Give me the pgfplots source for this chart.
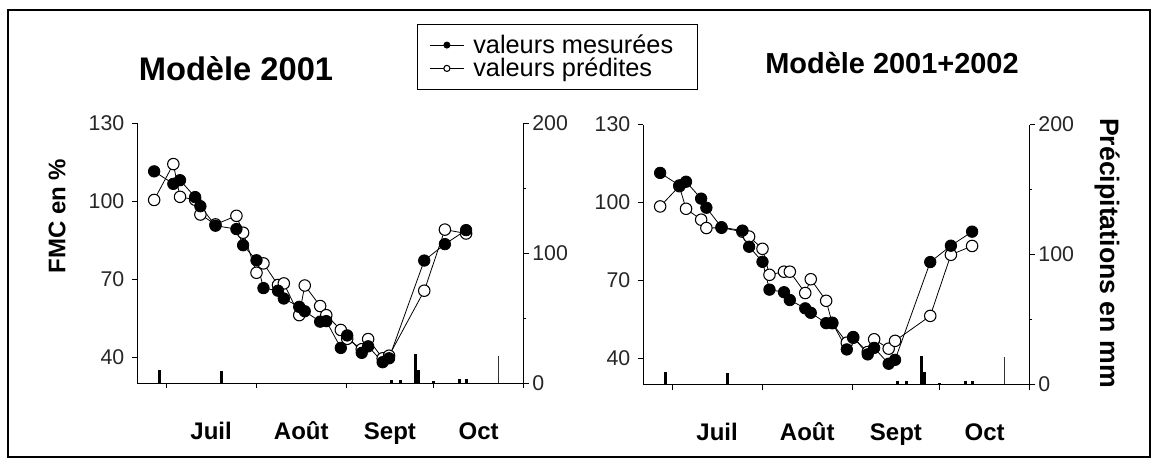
\documentclass[border=0pt]{standalone}
\usepackage{fontspec}
\setmainfont{Liberation Sans}
\usepackage{pgfplots}
\usepackage{pgfplotstable}
\pgfplotsset{compat=1.18}

% FMC: day counted from 1 July; M = measured, P1 = model 2001, P2 = model 2001+2002
\pgfplotstableread{
day   M     P1    P2
-4.1  111.4 100.4 98.5
2.5   106.6 114.2 106.3
4.8   108.0 101.6 97.6
10.0  101.5 100.5 93.4
11.8  98.0  94.8  90.2
17.0  90.5  91.0  90.3
24.2  89.2  94.3  88.8
26.5  83.0  87.8  86.9
31.1  77.2  72.4  82.2
33.5  66.5  76.0  72.2
38.5  65.5  67.7  73.4
40.5  62.5  68.3  73.4
45.8  59.3  56.1  65.2
47.7  57.6  67.5  70.5
53.0  53.6  59.6  62.2
55.1  53.8  56.1  53.6
60.1  43.5  50.4  46.1
62.3  48.3  47.0  48.0
67.3  41.6  43.0  42.5
69.5  44.1  46.9  47.4
74.5  38.0  39.5  43.8
76.7  39.5  40.5  46.8
88.8  77.1  65.5  56.4
95.9  83.4  89.0  79.9
103.2 88.8  87.5  83.3
}\fmc

% daily rainfall (mm)
\pgfplotstableread{
day   rain
-2.4  10
19.2  9
77.5  2.5
80.6  2.5
85.7  22
86.7  10
92.0  1.5
101.0 3
103.2 3
}\rain
\pgfplotstableread{
day   rain
114.5 21
}\rainthin

\pgfplotsset{
  base/.style={
    scale only axis, width=290pt, height=195pt, anchor=south west,
    xmin=-10, xmax=123,
    axis line style={black, line width=0.6pt},
    tick style={black, line width=0.6pt},
    tick align=outside,
    major tick length=4pt, minor tick length=2pt,
    /pgf/number format/assume math mode=true,
    tick label style={font=\fontsize{16}{16}\selectfont, text=black!85},
  },
  rainaxis/.style={base,
    ymin=0, ymax=200,
    axis x line=none, axis y line*=right,
    ytick={0,100,200}, minor ytick={50,150},
    yticklabel style={anchor=west, xshift=-1pt},
  },
  fmcaxis/.style={base,
    ymin=30, ymax=130,
    axis x line*=bottom, axis y line*=left,
    ytick={40,70,100,130},
    yticklabel style={anchor=east, xshift=-2pt},
    xtick={0,31,62,92,123}, xticklabels={},
    extra x ticks={15.5,46.5,77,107.5},
    extra x tick labels={Juil,Août,Sept,Oct},
    extra x tick style={tick style={draw=none},
      xticklabel style={font=\fontsize{18}{18}\bfseries\selectfont, text=black,
        text height=13pt, text depth=4pt, anchor=north, yshift=-21.5pt}},
  },
  meas/.style={black, line width=0.6pt, mark=*, mark size=4.3pt, mark options={fill=black, solid}},
  pred/.style={black, line width=0.6pt, mark=*, mark size=4.3pt, mark options={fill=white, draw=black, line width=0.8pt, solid}},
  rainbar/.style={ycomb, black, line width=2.2pt, mark=none},
}

\begin{document}
\begin{tikzpicture}
\begin{scope}[x=0.75pt, y=-0.75pt]
  \useasboundingbox (0,0) rectangle (1157,467);
  \draw[line width=1.6pt] (8,10) rectangle (1150,457);
  \node[font=\fontsize{24.5}{24.5}\bfseries\selectfont] at (236,69) {Modèle 2001};
  \node[font=\fontsize{21.7}{21.7}\bfseries\selectfont] at (892,63) {Modèle 2001+2002};
  \node[rotate=90, font=\fontsize{18}{18}\bfseries\selectfont] at (57,216) {FMC en \%};
  \node[rotate=-90, font=\fontsize{20}{20}\bfseries\selectfont] at (1107,253) {Précipitations en mm};
\end{scope}

% ---------- Modèle 2001 ----------
\begin{axis}[rainaxis, at={(102.75pt,-287.25pt)}]
  \addplot[rainbar] table[x=day, y=rain] {\rain};
  \addplot[ycomb, black!80, line width=0.7pt, mark=none] table[x=day, y=rain] {\rainthin};
\end{axis}
\begin{axis}[fmcaxis, at={(102.75pt,-287.25pt)},
    reverse legend,
    legend style={at={(0.7235,1.382)}, anchor=north west, draw=black, line width=0.6pt,
      font=\fontsize{19}{19}\selectfont, inner xsep=9pt, inner ysep=6.5pt,
      row sep=-1pt, nodes={inner sep=1.5pt},
      /tikz/every odd column/.append style={column sep=5pt}},
    legend cell align=left,
    legend image code/.code={%
      \draw[#1, mark size=2.3pt, mark repeat=2, mark phase=2] plot coordinates {(0pt,0pt) (13pt,0pt) (26pt,0pt)};},
  ]
  \addplot[pred] table[x=day, y=P1] {\fmc};
  \addlegendentry{valeurs prédites}
  \addplot[meas] table[x=day, y=M] {\fmc};
  \addlegendentry{valeurs mesurées\hspace*{8pt}}
\end{axis}

% ---------- Modèle 2001+2002 ----------
\begin{axis}[rainaxis, at={(482.25pt,-288.4pt)}]
  \addplot[rainbar] table[x=day, y=rain] {\rain};
  \addplot[ycomb, black!80, line width=0.7pt, mark=none] table[x=day, y=rain] {\rainthin};
\end{axis}
\begin{axis}[fmcaxis, at={(482.25pt,-288.4pt)}]
  \addplot[pred] table[x=day, y=P2] {\fmc};
  \addplot[meas] table[x=day, y=M] {\fmc};
\end{axis}
\end{tikzpicture}
\end{document}
